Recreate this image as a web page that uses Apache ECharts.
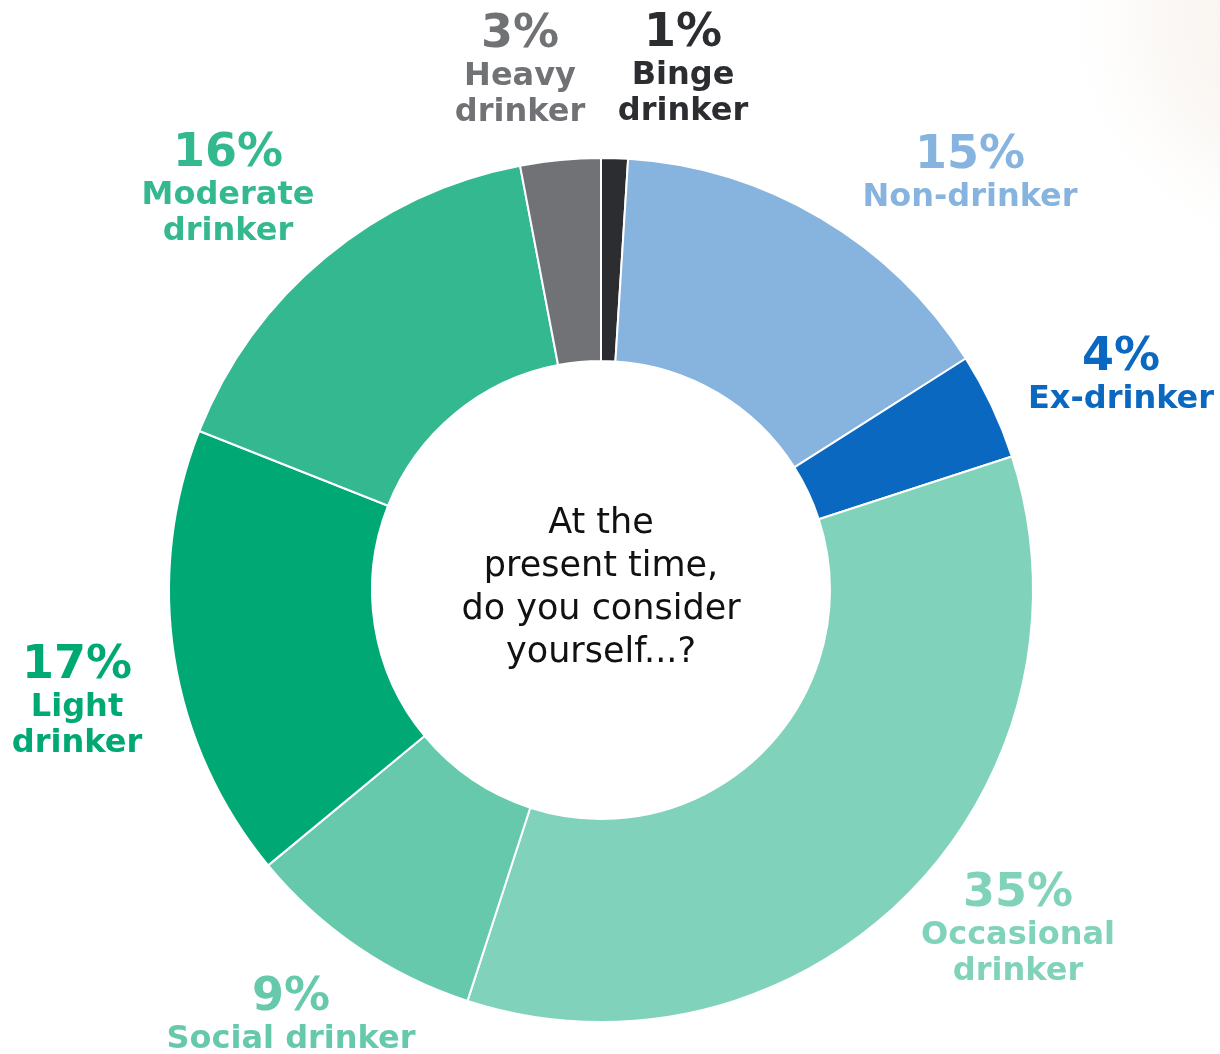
<!DOCTYPE html>
<html>
<head>
<meta charset="utf-8">
<script src="https://cdn.jsdelivr.net/npm/echarts@6/dist/echarts.min.js"></script>
<style>
  html, body { margin: 0; padding: 0; background: #fff; }
  #chart { width: 1220px; height: 1054px; }
</style>
</head>
<body>
<div id="chart"></div>
<script>
// slices clockwise from 12 o'clock
const categories = ["Binge drinker", "Non-drinker", "Ex-drinker", "Occasional drinker",
  "Social drinker", "Light drinker", "Moderate drinker", "Heavy drinker"];
const shares = [1, 15, 4, 35, 9, 17, 16, 3];
// how each label is broken into lines
const labelLines = [["Binge", "drinker"], ["Non-drinker"], ["Ex-drinker"], ["Occasional", "drinker"],
  ["Social drinker"], ["Light", "drinker"], ["Moderate", "drinker"], ["Heavy", "drinker"]];
const centerText = "At the\npresent time,\ndo you consider\nyourself...?";

const colors = ["#2b2d31", "#87b4de", "#0a68c0", "#80d3ba", "#66c9ac", "#00a874", "#33b890", "#707275"];
// label block centres in px
const labelPos = [[683, 70], [970, 174], [1121, 376], [1018, 930], [291, 1016], [77, 702], [228, 190], [520, 71]];

const FONT = "'DejaVu Sans', sans-serif";

const chart = echarts.init(document.getElementById("chart"));

chart.setOption({
  backgroundColor: "#fff",
  animation: false,
  graphic: [
    {
      type: "circle",
      shape: { cx: 1300, cy: 20, r: 250 },
      style: {
        fill: {
          type: "radial", x: 0.5, y: 0.5, r: 0.5,
          colorStops: [
            { offset: 0, color: "rgba(230,212,195,0.3)" },
            { offset: 0.55, color: "rgba(235,222,208,0.22)" },
            { offset: 1, color: "rgba(255,255,255,0)" }
          ]
        }
      },
      silent: true,
      z: -1
    },
    {
      type: "text",
      x: 601,
      y: 588,
      style: {
        text: centerText,
        font: "35px " + FONT,
        fill: "#111",
        textAlign: "center",
        textVerticalAlign: "middle",
        lineHeight: 43
      }
    }
  ],
  series: [
    {
      type: "pie",
      center: [601, 590],
      radius: [229, 432],
      startAngle: 90,
      clockwise: true,
      avoidLabelOverlap: false,
      itemStyle: { borderColor: "#fff", borderWidth: 2 },
      labelLine: { show: false },
      label: {
        show: true,
        position: "outside",
        fontFamily: FONT,
        formatter: (p) => {
          const lines = labelLines[p.dataIndex].map((s) => `{n|${s}}`).join("\n");
          return `{p|${p.value}%}\n${lines}`;
        },
        rich: {
          p: { fontSize: 46, fontWeight: 900, lineHeight: 48, fontFamily: FONT, align: "center" },
          n: { fontSize: 32, fontWeight: 700, lineHeight: 36, fontFamily: FONT, align: "center" }
        }
      },
      labelLayout: (params) => ({
        x: labelPos[params.dataIndex][0],
        y: labelPos[params.dataIndex][1],
        align: "center",
        verticalAlign: "middle"
      }),
      data: categories.map((name, i) => ({
        name,
        value: shares[i],
        itemStyle: { color: colors[i] },
        label: { color: colors[i] }
      }))
    }
  ]
});
</script>
</body>
</html>
